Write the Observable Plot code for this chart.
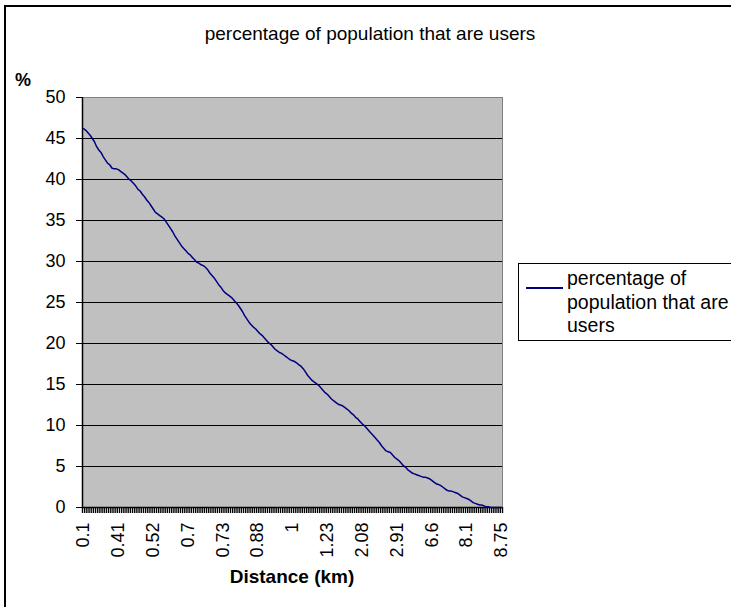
<!DOCTYPE html>
<html>
<head>
<meta charset="utf-8">
<script src="https://cdn.jsdelivr.net/npm/d3@7"></script>
<script src="https://cdn.jsdelivr.net/npm/@observablehq/plot@0.6"></script>
<style>
  html, body { margin: 0; padding: 0; background: #fff; }
  #wrap { position: relative; width: 731px; height: 607px; overflow: hidden; font-family: "Liberation Sans", Arial, sans-serif; color: #000; }
  #frame { position: absolute; left: 4px; top: 5px; width: 900px; height: 900px; border: 2px solid #000; box-sizing: border-box; }
  #chart { position: absolute; left: 0; top: 0; }
  #title { position: absolute; left: 0; width: 740px; top: 23px; text-align: center; font-size: 19px; white-space: nowrap; }
  #ylab { position: absolute; left: 15px; top: 70px; font-size: 18px; font-weight: bold; }
  #xlab { position: absolute; left: 82px; width: 420px; top: 566px; text-align: center; font-size: 19px; font-weight: bold; }
  #legend { position: absolute; left: 518px; top: 263px; width: 230px; height: 78px; border: 1px solid #000; box-sizing: border-box; background: #fff; }
  #legend .sw { position: absolute; left: 7px; top: 23px; width: 37px; height: 0; border-top: 2px solid #000080; }
  #legend .tx { position: absolute; left: 48px; top: 3px; font-size: 19.5px; line-height: 23.5px; white-space: nowrap; }
</style>
</head>
<body>
<div id="wrap">
  <div id="frame"></div>
  <div id="chart"></div>
  <div id="title"></div>
  <div id="ylab"></div>
  <div id="xlab"></div>
  <div id="legend"><div class="sw"></div><div class="tx"></div></div>
</div>
<script>
// Chart texts
const chartTitle = "percentage of population that are users";
const yTitle = "%";
const xTitle = "Distance (km)";
const seriesName = ["percentage of", "population that are", "users"];

// Category tick labels (every 16th category is labelled)
const xTickLabels = ["0.1", "0.41", "0.52", "0.7", "0.73", "0.88", "1", "1.23", "2.08", "2.91", "6.6", "8.1", "8.75"];
const labelEvery = 16;

// Y axis ticks
const yTicks = [0, 5, 10, 15, 20, 25, 30, 35, 40, 45, 50];

// Series values (% of population that are users), one per category
const userPct = [
  46.2, 46.0, 45.7, 45.4,  45.0, 44.6, 44.0, 43.6,  43.3, 42.8, 42.4, 42.0,
  41.8, 41.4, 41.3, 41.3,  41.2, 41.0, 40.8, 40.6,  40.3, 40.0, 39.8, 39.5,
  39.2, 38.8, 38.6, 38.2,  37.9, 37.5, 37.2, 36.8,  36.4, 36.0, 35.8, 35.6,
  35.4, 35.2, 34.8, 34.4,  34.0, 33.6, 33.1, 32.7,  32.3, 31.9, 31.6, 31.3,
  31.0, 30.8, 30.5, 30.2,  29.9, 29.8, 29.6, 29.5,  29.3, 29.0, 28.6, 28.3,
  28.0, 27.6, 27.2, 26.9,  26.5, 26.2, 26.0, 25.8,  25.6, 25.3, 25.0, 24.7,
  24.3, 23.9, 23.4, 23.0,  22.6, 22.3, 22.0, 21.8,  21.5, 21.2, 21.0, 20.7,
  20.4, 20.1, 19.9, 19.6,  19.3, 19.1, 18.9, 18.8,  18.6, 18.4, 18.2, 18.0,
  17.9, 17.8, 17.6, 17.4,  17.2, 16.9, 16.5, 16.1,  15.8, 15.5, 15.3, 15.1,
  14.9, 14.6, 14.3, 14.0,  13.8, 13.5, 13.2, 13.0,  12.8, 12.6, 12.5, 12.4,
  12.2, 12.0, 11.8, 11.5,  11.3, 11.0, 10.8, 10.5,  10.2, 10.0, 9.7, 9.4,
  9.1, 8.8, 8.5, 8.2,  7.9, 7.5, 7.2, 6.9,  6.8, 6.7, 6.4, 6.1,
  5.9, 5.7, 5.4, 5.1,  4.9, 4.6, 4.4, 4.2,  4.1, 4.0, 3.9, 3.8,
  3.7, 3.7, 3.6, 3.5,  3.3, 3.1, 2.9, 2.8,  2.7, 2.5, 2.3, 2.1,
  2.0, 2.0, 1.9, 1.8,  1.7, 1.5, 1.3, 1.2,  1.1, 1.0, 0.8, 0.6,
  0.5, 0.4, 0.3, 0.3,  0.2, 0.1, 0.1, 0.0,  0.0, 0.0, 0.0, 0.0, 0.0
];

const n = userPct.length;
const data = userPct.map((v, i) => ({i, v}));
const labelPos = xTickLabels.map((_, k) => k * labelEvery);
const labelMap = new Map(labelPos.map((p, k) => [p, xTickLabels[k]]));
const boundaries = d3.range(n + 1).map(k => k - 0.5);
const gridVals = yTicks.filter(t => t > 0 && t < 50);

const chart = Plot.plot({
  width: 731,
  height: 607,
  marginLeft: 82,
  marginRight: 229,
  marginTop: 97,
  marginBottom: 100,
  style: {background: "transparent", fontFamily: "'Liberation Sans', Arial, sans-serif", fontSize: "18px", color: "#000"},
  x: {domain: [-0.5, n - 0.5], axis: null},
  y: {domain: [0, 50], axis: null},
  marks: [
    Plot.frame({fill: "#C0C0C0", stroke: "#808080"}),
    Plot.ruleY(gridVals, {stroke: "#000", strokeWidth: 1}),
    Plot.axisY({ticks: yTicks, tickSize: 6, tickPadding: 11, fontSize: 18, stroke: "#000", strokeOpacity: 1, label: null}),
    Plot.axisX({ticks: boundaries, tickSize: 6, tickFormat: () => "", stroke: "#000", strokeOpacity: 1, strokeWidth: 1.4, label: null}),
    Plot.axisX({ticks: labelPos, tickSize: 0, tickPadding: 15, tickRotate: -90, tickFormat: d => labelMap.get(d), fontSize: 18, label: null}),
    Plot.ruleX([-0.5], {stroke: "#000", strokeWidth: 1.5}),
    Plot.ruleY([0], {stroke: "#000", strokeWidth: 1.5}),
    Plot.line(data, {x: "i", y: "v", stroke: "#000080", strokeWidth: 1.5})
  ]
});
document.getElementById("chart").appendChild(chart);
document.getElementById("title").textContent = chartTitle;
document.getElementById("ylab").textContent = yTitle;
document.getElementById("xlab").textContent = xTitle;
document.querySelector("#legend .tx").innerHTML = seriesName.join("<br>");
</script>
</body>
</html>
